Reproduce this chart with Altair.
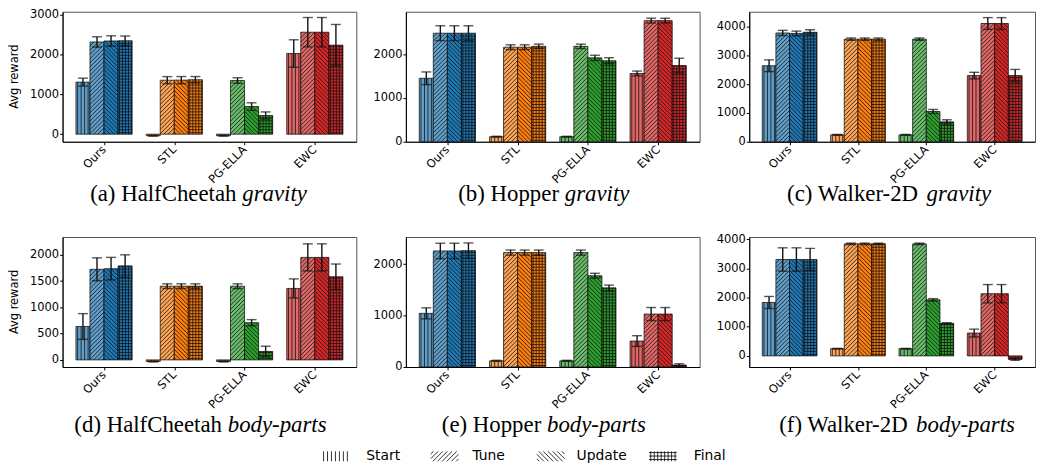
import altair as alt
import pandas as pd

# ---------------- data ----------------
methods = ["Ours", "STL", "PG-ELLA", "EWC"]
phases = ["Start", "Tune", "Update", "Final"]

# rows = methods, columns = phases
hc_grav_mean = [[1310, 2320, 2345, 2350], [-40, 1358, 1360, 1370], [-40, 1350, 695, 470], [2030, 2565, 2565, 2240]]
hc_grav_err = [[100, 130, 130, 120], [10, 90, 90, 80], [10, 70, 95, 90], [345, 370, 370, 520]]

hop_grav_mean = [[1450, 2480, 2480, 2480], [115, 2160, 2160, 2180], [115, 2180, 1917, 1850], [1560, 2767, 2767, 1738]]
hop_grav_err = [[145, 170, 170, 170], [10, 55, 55, 50], [10, 50, 60, 70], [55, 55, 55, 170]]

wk_grav_mean = [[2645, 3786, 3770, 3810], [240, 3571, 3571, 3571], [240, 3571, 1054, 690], [2302, 4115, 4115, 2302]]
wk_grav_err = [[205, 90, 80, 90], [15, 40, 40, 40], [15, 40, 70, 75], [115, 205, 205, 215]]

hc_body_mean = [[635, 1723, 1735, 1784], [-30, 1402, 1402, 1402], [-30, 1402, 708, 160], [1360, 1950, 1950, 1581]]
hc_body_err = [[245, 218, 215, 215], [10, 45, 45, 45], [10, 45, 58, 100], [181, 258, 258, 243]]

hop_body_mean = [[1042, 2254, 2254, 2260], [120, 2222, 2222, 2222], [120, 2222, 1773, 1534], [504, 1028, 1028, 38]]
hop_body_err = [[107, 150, 150, 150], [10, 50, 50, 50], [10, 50, 47, 57], [104, 127, 127, 25]]

wk_body_mean = [[1832, 3306, 3306, 3306], [248, 3843, 3843, 3843], [248, 3843, 1923, 1118], [783, 2133, 2133, -120]]
wk_body_err = [[207, 400, 400, 380], [10, 25, 25, 25], [10, 25, 40, 20], [134, 313, 313, 30]]

# ---------------- styles ----------------
base_colors = ["#1f77b4", "#ff7f0e", "#2ca02c", "#d62728"]
light_colors = ["#62a0ca", "#ffa556", "#6bbd6b", "#e26868"]
hatch_kind = ["v", "fwd", "back", "grid"]
hatch_sp = {"v": 3.5, "fwd": 4.2, "back": 4.2, "grid": 3.0}

H = 131
XMIN, XMAX = -0.59, 3.59
AX_FONT = 11.5

panels = [
    dict(tag="(a)", env="HalfCheetah", cond="gravity", mean=hc_grav_mean, err=hc_grav_err,
         ydom=[-190, 3080], yticks=[0, 1000, 2000, 3000], ytitle=True, W=296, cx=137, cy=53),
    dict(tag="(b)", env="Hopper", cond="gravity", mean=hop_grav_mean, err=hop_grav_err,
         ydom=[0, 2970], yticks=[0, 1000, 2000], ytitle=False, W=296, cx=139, cy=53),
    dict(tag="(c)", env="Walker-2D", cond="gravity", mean=wk_grav_mean, err=wk_grav_err,
         ydom=[0, 4524], yticks=[0, 1000, 2000, 3000, 4000], ytitle=False, W=288, cx=141, cy=53),
    dict(tag="(d)", env="HalfCheetah", cond="body-parts", mean=hc_body_mean, err=hc_body_err,
         ydom=[-135, 2338], yticks=[0, 500, 1000, 1500, 2000], ytitle=True, W=296, cx=139, cy=59),
    dict(tag="(e)", env="Hopper", cond="body-parts", mean=hop_body_mean, err=hop_body_err,
         ydom=[0, 2525], yticks=[0, 1000, 2000], ytitle=False, W=296, cx=139, cy=59),
    dict(tag="(f)", env="Walker-2D", cond="body-parts", mean=wk_body_mean, err=wk_body_err,
         ydom=[-380, 4077], yticks=[0, 1000, 2000, 3000, 4000], ytitle=False, W=288, cx=149, cy=59),
]

# legend layout (pixels relative to panel (e) plot origin)
legend_icon_x = [-85, 25, 132, 245]
legend_text_x = [-40, 67, 172, 290]
legend_y = 221
CAP_FONT = 23

reg_w = {' ': .25, '(': .333, ')': .333, 'a': .444, 'b': .5, 'c': .444, 'd': .5, 'e': .444, 'f': .333,
         'H': .722, 'C': .667, 'h': .5, 'l': .278, 't': .278, 'o': .5, 'p': .5, 'r': .333, 'W': .944,
         'k': .5, '-': .333, '2': .5, 'D': .722}
ital_w = {'g': .5, 'r': .389, 'a': .5, 'v': .444, 'i': .278, 't': .278, 'y': .444, 'b': .5, 'o': .5,
          'd': .5, '-': .333, 'p': .5, 's': .389}


def hatch(kind, w, h, sp):
    segs = []
    if h <= 0 or w <= 0:
        return segs
    if kind in ("v", "grid"):
        u = sp / 2
        while u < w:
            segs.append((u, 0, u, h))
            u += sp
    if kind == "grid":
        t = sp / 2
        while t < h:
            segs.append((0, t, w, t))
            t += sp
    if kind == "fwd":
        c = -w + sp / 2
        while c < h:
            u1, u2 = max(0, -c), min(w, h - c)
            if u2 > u1:
                segs.append((u1, u1 + c, u2, u2 + c))
            c += sp
    if kind == "back":
        c = sp / 2
        while c < h + w:
            u1, u2 = max(0, c - h), min(w, c)
            if u2 > u1:
                segs.append((u1, c - u1, u2, c - u2))
            c += sp
    return segs


label_expr = "[" + ",".join("'%s'" % m for m in methods) + "][datum.value]"


def make_panel(p, with_legend):
    W = p["W"]
    ymin, ymax = p["ydom"]
    kx = W / (XMAX - XMIN)
    ky = H / (ymax - ymin)
    xsc = alt.Scale(domain=[XMIN, XMAX], nice=False, zero=False)
    ysc = alt.Scale(domain=[ymin, ymax], nice=False, zero=False)

    common = dict(grid=False, labelOverlap=False, labelFlush=False, labelFontSize=AX_FONT,
                  labelFont="DejaVu Sans", labelColor="black", tickColor="black", domainColor="black",
                  tickSize=3, tickWidth=1, domainWidth=1.1, title=None)
    xaxis = alt.Axis(values=[0, 1, 2, 3], labelExpr=label_expr, labelAngle=315, labelAlign="right",
                     labelBaseline="middle", labelPadding=3, **common)
    yaxis = alt.Axis(values=p["yticks"], format="d", labelPadding=1, **common)

    def X(f):
        return alt.X(f + ":Q", scale=xsc, axis=xaxis)

    def Y(f):
        return alt.Y(f + ":Q", scale=ysc, axis=yaxis)

    def px2x(px):
        return XMIN + px / kx

    def py2y(py):
        return ymax - py / ky

    rows, hrows = [], []
    for i, m in enumerate(methods):
        for j, ph in enumerate(phases):
            v = p["mean"][i][j]
            e = p["err"][i][j]
            xl = i + (j - 2) * 0.2
            rows.append(dict(method=m, phase=ph, x=xl, x2=xl + 0.2, xc=xl + 0.1, v=v, base=0,
                             lo=v - e, hi=v + e,
                             color=(light_colors if j < 2 else base_colors)[i]))
            kind = hatch_kind[j]
            bottom = min(0, v)
            for (u1, t1, u2, t2) in hatch(kind, 0.2 * kx, abs(v) * ky, hatch_sp[kind]):
                hrows.append(dict(hx1=xl + u1 / kx, hy1=bottom + t1 / ky,
                                  hx2=xl + u2 / kx, hy2=bottom + t2 / ky))
    bars = pd.DataFrame(rows)
    hdf = pd.DataFrame(hrows)

    bar_layer = alt.Chart(bars).mark_bar(stroke="black", strokeWidth=0.7).encode(
        x=X("x"), x2="x2", y=Y("v"), y2="base",
        color=alt.Color("color:N", scale=None))
    hatch_layer = alt.Chart(hdf).mark_rule(color="#111", strokeWidth=0.85, opacity=0.95).encode(
        x=X("hx1"), x2="hx2", y=Y("hy1"), y2="hy2")
    err_layer = alt.Chart(bars).mark_rule(color="#111", strokeWidth=1.4).encode(
        x=X("xc"), y=Y("lo"), y2="hi")
    cap_lo = alt.Chart(bars).mark_tick(orient="horizontal", size=10, thickness=1.4, color="#111").encode(
        x=X("xc"), y=Y("lo"))
    cap_hi = alt.Chart(bars).mark_tick(orient="horizontal", size=10, thickness=1.4, color="#111").encode(
        x=X("xc"), y=Y("hi"))

    # caption: regular part + italic part, centred
    reg = p["tag"] + " " + p["env"]
    wr = sum(reg_w[c] for c in reg) * CAP_FONT
    wi = sum(ital_w[c] for c in p["cond"]) * CAP_FONT
    ws = 0.25 * CAP_FONT
    x0 = p["cx"] - (wr + ws + wi) / 2
    cap_y = py2y(H + p["cy"])
    cap_reg = alt.Chart(pd.DataFrame([dict(tx=px2x(x0), ty=cap_y, t=reg)])).mark_text(
        font="Liberation Serif", fontSize=CAP_FONT, align="left", baseline="middle", color="black").encode(
        x=X("tx"), y=Y("ty"), text="t:N")
    cap_it = alt.Chart(pd.DataFrame([dict(tx=px2x(x0 + wr + ws), ty=cap_y, t=p["cond"])])).mark_text(
        font="Liberation Serif", fontSize=CAP_FONT, fontStyle="italic", align="left", baseline="middle",
        color="black").encode(x=X("tx"), y=Y("ty"), text="t:N")

    layers = [bar_layer, hatch_layer, err_layer, cap_lo, cap_hi, cap_reg, cap_it]

    if p["ytitle"]:
        layers.append(alt.Chart(pd.DataFrame([dict(tx=px2x(-44.5), ty=py2y(H / 2), t="Avg reward")])).mark_text(
            font="DejaVu Sans", fontSize=AX_FONT, angle=270, align="center", baseline="alphabetic",
            color="black").encode(x=X("tx"), y=Y("ty"), text="t:N"))

    if with_legend:
        iw, ih = 28, 10
        lh, lt = [], []
        for j, ph in enumerate(phases):
            ix = legend_icon_x[j]
            bot = legend_y + ih / 2
            for (u1, t1, u2, t2) in hatch(hatch_kind[j], iw, ih, hatch_sp[hatch_kind[j]] + 0.5):
                lh.append(dict(hx1=px2x(ix + u1), hy1=py2y(bot - t1), hx2=px2x(ix + u2), hy2=py2y(bot - t2)))
            lt.append(dict(tx=px2x(legend_text_x[j]), ty=py2y(legend_y), t=ph))
        layers.append(alt.Chart(pd.DataFrame(lh)).mark_rule(color="black", strokeWidth=0.8).encode(
            x=X("hx1"), x2="hx2", y=Y("hy1"), y2="hy2"))
        layers.append(alt.Chart(pd.DataFrame(lt)).mark_text(
            font="DejaVu Sans", fontSize=14, align="left", baseline="middle", color="black").encode(
            x=X("tx"), y=Y("ty"), text="t:N"))

    return alt.layer(*layers).properties(width=W, height=H)


charts = [make_panel(p, k == 4) for k, p in enumerate(panels)]

chart = alt.ConcatChart(
    concat=charts, columns=3, spacing={"row": 96, "column": 50}, bounds="flush",
    padding={"top": -2, "left": 0, "right": 0, "bottom": 0}
).configure_view(
    stroke="#555", strokeWidth=1
).configure_axis(
    labelFontSize=AX_FONT, labelFont="DejaVu Sans"
)

chart.save("out.html", embed_options={"renderer": "svg", "actions": False})
